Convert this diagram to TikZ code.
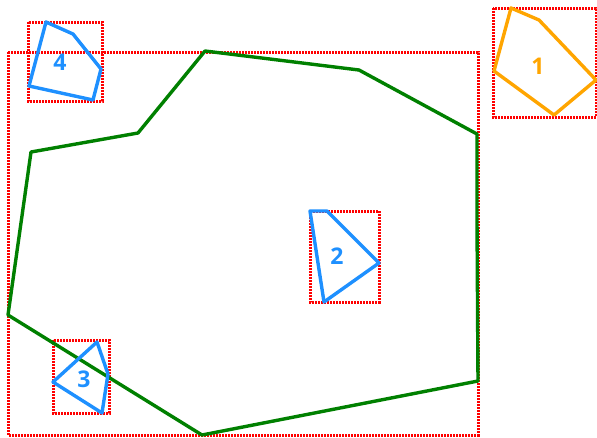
\documentclass[tikz,border=0pt]{standalone}
\usepackage{fontspec}
\setmainfont{Open Sans}
\begin{document}
\begin{tikzpicture}[x=1pt,y=-1pt,
  bbox/.style={draw=red,line width=3pt,dash pattern=on 1.8pt off 1.2pt},
  bluepoly/.style={draw={rgb,255:red,30;green,144;blue,255},line width=3.4pt,line join=round},
  orangepoly/.style={draw={rgb,255:red,255;green,165;blue,0},line width=3.4pt,line join=round},
  greenpoly/.style={draw={rgb,255:red,0;green,128;blue,0},line width=3.4pt,line join=round},
  lbl/.style={font=\fontsize{23}{23}\selectfont\bfseries,inner sep=0pt},
]
\useasboundingbox (0,0) rectangle (597,437);
% bounding boxes
\draw[bbox] (8,52) rectangle (478,435);
\draw[bbox] (28,22) rectangle (102,101);
\draw[bbox] (493,8) rectangle (596,117);
\draw[bbox] (310,211) rectangle (379,302);
\draw[bbox] (53,340) rectangle (109,413);
% green polygon
\draw[greenpoly] (205,51) -- (359,70) -- (477,134) -- (477,220) -- (478,381) -- (202,435) -- (8,315) -- (31,152) -- (138,133) -- cycle;
% polygons
\draw[orangepoly] (511,8) -- (539,20) -- (596,80) -- (554,115) -- (494,71) -- cycle;
\draw[bluepoly] (46,22) -- (73,34) -- (101,69) -- (93,100) -- (29,86) -- cycle;
\draw[bluepoly] (310,211) -- (327,211) -- (379,263) -- (324,302) -- cycle;
\draw[bluepoly] (97,342) -- (108,374) -- (102,413) -- (53,382) -- cycle;
% labels
\node[lbl,text={rgb,255:red,255;green,165;blue,0}] (l1) at (538,66) {1};
\node[lbl,text={rgb,255:red,30;green,144;blue,255}] (l2) at (337,256) {2};
\node[lbl,text={rgb,255:red,30;green,144;blue,255}] (l3) at (84,379) {3};
\node[lbl,text={rgb,255:red,30;green,144;blue,255}] (l4) at (60,62) {4};
\end{tikzpicture}
\end{document}
